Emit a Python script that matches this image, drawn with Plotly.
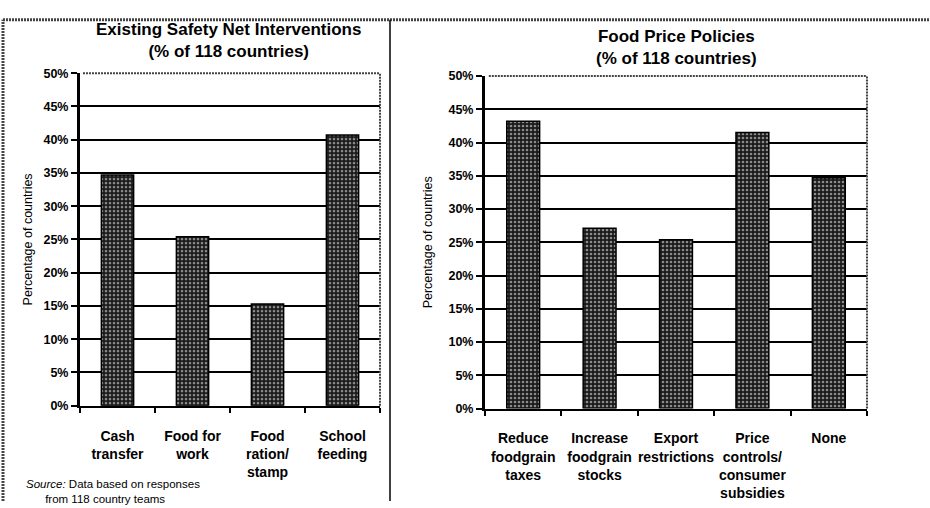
import plotly.graph_objects as go

left_categories = ["Cash<br>transfer", "Food for<br>work", "Food<br>ration/<br>stamp", "School<br>feeding"]
left_values = [0.347, 0.254, 0.153, 0.407]

right_categories = ["Reduce<br>foodgrain<br>taxes", "Increase<br>foodgrain<br>stocks", "Export<br>restrictions",
                    "Price<br>controls/<br>consumer<br>subsidies", "None"]
right_values = [0.432, 0.271, 0.254, 0.415, 0.347]

left_title = "Existing Safety Net Interventions<br>(% of 118 countries)"
right_title = "Food Price Policies<br>(% of 118 countries)"
y_title = "Percentage of countries"
source_text = "<i>Source:</i> Data based on responses<br>      from 118 country teams"

W, H = 930, 508
FONT = "Liberation Sans, Arial, sans-serif"

fig = go.Figure()

bar_style = dict(
    marker=dict(color="#1a1a1a", line=dict(color="black", width=1.5),
                pattern=dict(shape=".", fgcolor="white", size=4, solidity=0.35, fillmode="overlay")),
    width=0.43, showlegend=False, hoverinfo="skip",
)
fig.add_trace(go.Bar(x=left_categories, y=left_values, xaxis="x", yaxis="y", **bar_style))
fig.add_trace(go.Bar(x=right_categories, y=right_values, xaxis="x2", yaxis="y2", **bar_style))

def yaxis(domain, anchor):
    return dict(domain=domain, anchor=anchor, range=[0, 0.5], dtick=0.05, tickformat=".0%",
                showgrid=True, gridcolor="black", gridwidth=2,
                showline=True, linecolor="black", linewidth=3,
                ticks="outside", ticklen=6, tickwidth=2, tickcolor="black",
                zeroline=False,
                tickfont=dict(family=FONT, size=12.5, color="black", weight="bold"))

def xaxis(domain, anchor):
    return dict(domain=domain, anchor=anchor, showline=True, linecolor="black", linewidth=2,
                ticks="outside", tickson="boundaries", ticklen=5, tickwidth=2, tickcolor="black",
                showgrid=False, tickangle=0, ticklabelstandoff=16,
                tickfont=dict(family=FONT, size=14, color="black", weight="bold"))

lx0, lx1 = 80 / W, 380 / W
rx0, rx1 = 485 / W, 867 / W
ly0, ly1 = (H - 410) / H, (H - 68) / H
ry0, ry1 = (H - 413) / H, (H - 71) / H

fig.update_layout(
    width=W, height=H, margin=dict(l=0, r=0, t=0, b=0),
    paper_bgcolor="white", plot_bgcolor="white",
    bargap=0.57,
    xaxis=xaxis([lx0, lx1], "y"),
    yaxis=yaxis([ly0, ly1], "x"),
    xaxis2=xaxis([rx0, rx1], "y2"),
    yaxis2=yaxis([ry0, ry1], "x2"),
)

# titles and labels
title_font = dict(family=FONT, size=17, color="black", weight="bold")
fig.add_annotation(text=left_title, x=228 / W, y=1 - 34 / H, xref="paper", yref="paper",
                   xanchor="center", yanchor="middle", showarrow=False, font=title_font)
fig.add_annotation(text=right_title, x=676 / W, y=1 - 42 / H, xref="paper", yref="paper",
                   xanchor="center", yanchor="middle", showarrow=False, font=title_font)
fig.add_annotation(text=y_title, x=28 / W, y=(ly0 + ly1) / 2, xref="paper", yref="paper",
                   xanchor="center", yanchor="middle",
                   textangle=-90, showarrow=False, font=dict(family=FONT, size=12.5, color="black"))
fig.add_annotation(text=y_title, x=428 / W, y=(ry0 + ry1) / 2, xref="paper", yref="paper",
                   xanchor="center", yanchor="middle",
                   textangle=-90, showarrow=False, font=dict(family=FONT, size=12.5, color="black"))
fig.add_annotation(text=source_text, x=24 / W, y=-6 / H, xref="paper", yref="paper",
                   xanchor="left", yanchor="bottom", align="left", showarrow=False,
                   font=dict(family=FONT, size=11.5, color="black"))

# plot-area top/right dotted borders
for xr, yr in (("x domain", "y domain"), ("x2 domain", "y2 domain")):
    fig.add_shape(type="line", xref=xr, yref=yr, x0=0.01, x1=1, y0=1, y1=1,
                  line=dict(color="white", width=4))
    fig.add_shape(type="line", xref=xr, yref=yr, x0=0.01, x1=1, y0=1, y1=1,
                  line=dict(color="#444", width=2, dash="2px,1px"))
    fig.add_shape(type="line", xref=xr, yref=yr, x0=1, x1=1, y0=0, y1=1,
                  line=dict(color="#444", width=2, dash="2px,1px"))

# outer frame
frame = dict(color="#444", width=3, dash="2px,1px")
fig.add_shape(type="line", xref="paper", yref="paper", x0=3 / W, x1=1, y0=1 - 13 / H, y1=1 - 13 / H,
              line=frame)
fig.add_shape(type="line", xref="paper", yref="paper", x0=3 / W, x1=3 / W, y0=0, y1=1 - 13 / H,
              line=frame)
fig.add_shape(type="line", xref="paper", yref="paper", x0=390 / W, x1=390 / W, y0=0, y1=1 - 13 / H,
              line=dict(color="black", width=1.5))

fig.write_html("out.html")
